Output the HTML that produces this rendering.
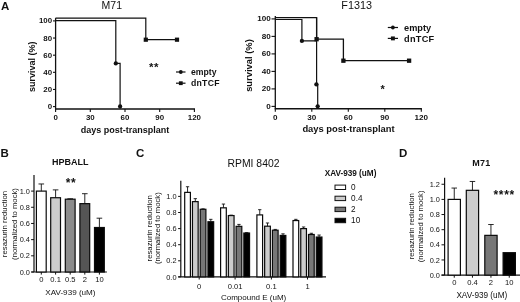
<!DOCTYPE html>
<html lang="en">
<head>
<meta charset="utf-8">
<title>Figure</title>
<style>
html,body{margin:0;padding:0;background:#fff;}
body{width:520px;height:302px;overflow:hidden;}
svg{display:block;will-change:transform;font-family:'Liberation Sans', Arial, Helvetica, sans-serif;}
</style>
</head>
<body>
<svg width="520" height="302" viewBox="0 0 520 302">
<rect x="0" y="0" width="520" height="302" fill="#ffffff"/>
<text x="1" y="9.6" font-size="11.5" font-weight="bold" text-anchor="start" fill="#111">A</text>
<text x="0.5" y="157.2" font-size="11.5" font-weight="bold" text-anchor="start" fill="#111">B</text>
<text x="136" y="157.2" font-size="11.5" font-weight="bold" text-anchor="start" fill="#111">C</text>
<text x="399" y="156.6" font-size="11.5" font-weight="bold" text-anchor="start" fill="#111">D</text>
<line x1="55.6" y1="18.1" x2="55.6" y2="108.95" stroke="#111" stroke-width="1.3"/>
<line x1="55.0" y1="108.95" x2="195.0" y2="108.95" stroke="#111" stroke-width="1.4"/>
<line x1="53.0" y1="106.6" x2="55.6" y2="106.6" stroke="#111" stroke-width="1.1"/>
<text x="52.1" y="109.09" font-size="7.9" font-weight="bold" text-anchor="end" fill="#111">0</text>
<line x1="53.0" y1="89.46" x2="55.6" y2="89.46" stroke="#111" stroke-width="1.1"/>
<text x="52.1" y="91.95" font-size="7.9" font-weight="bold" text-anchor="end" fill="#111">20</text>
<line x1="53.0" y1="72.32" x2="55.6" y2="72.32" stroke="#111" stroke-width="1.1"/>
<text x="52.1" y="74.81" font-size="7.9" font-weight="bold" text-anchor="end" fill="#111">40</text>
<line x1="53.0" y1="55.18" x2="55.6" y2="55.18" stroke="#111" stroke-width="1.1"/>
<text x="52.1" y="57.67" font-size="7.9" font-weight="bold" text-anchor="end" fill="#111">60</text>
<line x1="53.0" y1="38.04" x2="55.6" y2="38.04" stroke="#111" stroke-width="1.1"/>
<text x="52.1" y="40.53" font-size="7.9" font-weight="bold" text-anchor="end" fill="#111">80</text>
<line x1="53.0" y1="20.9" x2="55.6" y2="20.9" stroke="#111" stroke-width="1.1"/>
<text x="52.1" y="23.39" font-size="7.9" font-weight="bold" text-anchor="end" fill="#111">100</text>
<line x1="55.6" y1="108.95" x2="55.6" y2="111.95" stroke="#111" stroke-width="1.1"/>
<text x="55.6" y="120.25" font-size="7.9" font-weight="bold" text-anchor="middle" fill="#111">0</text>
<line x1="90.3" y1="108.95" x2="90.3" y2="111.95" stroke="#111" stroke-width="1.1"/>
<text x="90.3" y="120.25" font-size="7.9" font-weight="bold" text-anchor="middle" fill="#111">30</text>
<line x1="125.0" y1="108.95" x2="125.0" y2="111.95" stroke="#111" stroke-width="1.1"/>
<text x="125.0" y="120.25" font-size="7.9" font-weight="bold" text-anchor="middle" fill="#111">60</text>
<line x1="159.7" y1="108.95" x2="159.7" y2="111.95" stroke="#111" stroke-width="1.1"/>
<text x="159.7" y="120.25" font-size="7.9" font-weight="bold" text-anchor="middle" fill="#111">90</text>
<line x1="194.4" y1="108.95" x2="194.4" y2="111.95" stroke="#111" stroke-width="1.1"/>
<text x="194.4" y="120.25" font-size="7.9" font-weight="bold" text-anchor="middle" fill="#111">120</text>
<text x="111.8" y="9.2" font-size="10.5" text-anchor="middle" fill="#111">M71</text>
<text x="35.0" y="66.65" font-size="9.0" font-weight="bold" text-anchor="middle" fill="#111" transform="rotate(-90 35.0 66.65)">survival (%)</text>
<text x="125.1" y="132.7" font-size="9.0" font-weight="bold" text-anchor="middle" fill="#111">days post-transplant</text>
<polyline points="55.5,18.1 145.8,18.1 145.8,39.7 177,39.7" fill="none" stroke="#111" stroke-width="1.2"/>
<rect x="143.7" y="37.6" width="4.2" height="4.2" fill="#111"/>
<rect x="174.9" y="37.6" width="4.2" height="4.2" fill="#111"/>
<polyline points="55.5,20.6 115.8,20.6 115.8,63.4 120.1,63.4 120.1,106.6" fill="none" stroke="#111" stroke-width="1.2"/>
<circle cx="115.8" cy="63.4" r="2.15" fill="#111"/>
<circle cx="120.1" cy="106.5" r="2.15" fill="#111"/>
<text x="153.9" y="71.4" font-size="11.5" font-weight="bold" letter-spacing="0.4" text-anchor="middle" fill="#111">**</text>
<line x1="176" y1="72.0" x2="185.5" y2="72.0" stroke="#111" stroke-width="1.2"/>
<circle cx="180.8" cy="72.0" r="1.9" fill="#111"/>
<text x="191" y="75.1" font-size="8.7" font-weight="bold" text-anchor="start" fill="#111">empty</text>
<line x1="176" y1="83.2" x2="185.5" y2="83.2" stroke="#111" stroke-width="1.2"/>
<rect x="178.9" y="81.3" width="3.8" height="3.8" fill="#111"/>
<text x="191" y="86.4" font-size="8.7" font-weight="bold" letter-spacing="0.25" text-anchor="start" fill="#111">dnTCF</text>
<line x1="275.3" y1="16.1" x2="275.3" y2="108.8" stroke="#111" stroke-width="1.3"/>
<line x1="274.7" y1="108.8" x2="421.9" y2="108.8" stroke="#111" stroke-width="1.4"/>
<line x1="271.5" y1="106.4" x2="275.3" y2="106.4" stroke="#111" stroke-width="1.1"/>
<text x="270.7" y="108.97" font-size="8.1" font-weight="bold" text-anchor="end" fill="#111">0</text>
<line x1="271.5" y1="88.9" x2="275.3" y2="88.9" stroke="#111" stroke-width="1.1"/>
<text x="270.7" y="91.47" font-size="8.1" font-weight="bold" text-anchor="end" fill="#111">20</text>
<line x1="271.5" y1="71.4" x2="275.3" y2="71.4" stroke="#111" stroke-width="1.1"/>
<text x="270.7" y="73.97" font-size="8.1" font-weight="bold" text-anchor="end" fill="#111">40</text>
<line x1="271.5" y1="53.9" x2="275.3" y2="53.9" stroke="#111" stroke-width="1.1"/>
<text x="270.7" y="56.47" font-size="8.1" font-weight="bold" text-anchor="end" fill="#111">60</text>
<line x1="271.5" y1="36.4" x2="275.3" y2="36.4" stroke="#111" stroke-width="1.1"/>
<text x="270.7" y="38.97" font-size="8.1" font-weight="bold" text-anchor="end" fill="#111">80</text>
<line x1="271.5" y1="18.9" x2="275.3" y2="18.9" stroke="#111" stroke-width="1.1"/>
<text x="270.7" y="21.47" font-size="8.1" font-weight="bold" text-anchor="end" fill="#111">100</text>
<line x1="275.3" y1="108.8" x2="275.3" y2="111.8" stroke="#111" stroke-width="1.1"/>
<text x="275.3" y="120.1" font-size="8.1" font-weight="bold" text-anchor="middle" fill="#111">0</text>
<line x1="311.8" y1="108.8" x2="311.8" y2="111.8" stroke="#111" stroke-width="1.1"/>
<text x="311.8" y="120.1" font-size="8.1" font-weight="bold" text-anchor="middle" fill="#111">30</text>
<line x1="348.3" y1="108.8" x2="348.3" y2="111.8" stroke="#111" stroke-width="1.1"/>
<text x="348.3" y="120.1" font-size="8.1" font-weight="bold" text-anchor="middle" fill="#111">60</text>
<line x1="384.8" y1="108.8" x2="384.8" y2="111.8" stroke="#111" stroke-width="1.1"/>
<text x="384.8" y="120.1" font-size="8.1" font-weight="bold" text-anchor="middle" fill="#111">90</text>
<line x1="421.3" y1="108.8" x2="421.3" y2="111.8" stroke="#111" stroke-width="1.1"/>
<text x="421.3" y="120.1" font-size="8.1" font-weight="bold" text-anchor="middle" fill="#111">120</text>
<text x="356.6" y="9.2" font-size="10.8" text-anchor="middle" fill="#111">F1313</text>
<text x="252.5" y="65.55" font-size="9.4" font-weight="bold" text-anchor="middle" fill="#111" transform="rotate(-90 252.5 65.55)">survival (%)</text>
<text x="348.5" y="132.2" font-size="9.4" font-weight="bold" text-anchor="middle" fill="#111">days post-transplant</text>
<polyline points="275.3,19.5 301.9,19.5 301.9,40.9 316.6,40.9" fill="none" stroke="#111" stroke-width="1.2"/>
<polyline points="316.6,17.6 316.6,84.4 317.7,84.4 317.7,106.4" fill="none" stroke="#111" stroke-width="1.2"/>
<circle cx="301.9" cy="40.9" r="2.15" fill="#111"/>
<circle cx="316.4" cy="84.4" r="2.15" fill="#111"/>
<circle cx="317.7" cy="106.3" r="2.15" fill="#111"/>
<polyline points="275.3,17.6 316.6,17.6 316.6,39.2 343.4,39.2 343.4,60.7 409.1,60.7" fill="none" stroke="#111" stroke-width="1.3"/>
<rect x="314.45" y="37.05" width="4.3" height="4.3" fill="#111"/>
<rect x="341.25" y="58.55" width="4.3" height="4.3" fill="#111"/>
<rect x="406.95" y="58.55" width="4.3" height="4.3" fill="#111"/>
<text x="382.7" y="93.4" font-size="11" font-weight="bold" text-anchor="middle" fill="#111">*</text>
<line x1="387.8" y1="27.5" x2="398" y2="27.5" stroke="#111" stroke-width="1.2"/>
<circle cx="392.9" cy="27.5" r="1.9" fill="#111"/>
<text x="404.1" y="30.7" font-size="9.2" font-weight="bold" text-anchor="start" fill="#111">empty</text>
<line x1="387.8" y1="38.4" x2="398" y2="38.4" stroke="#111" stroke-width="1.2"/>
<rect x="390.95" y="36.45" width="3.9" height="3.9" fill="#111"/>
<text x="404.1" y="41.7" font-size="9.2" font-weight="bold" letter-spacing="0.25" text-anchor="start" fill="#111">dnTCF</text>
<line x1="34.0" y1="175.12" x2="34.0" y2="272.0" stroke="#111" stroke-width="1.2"/>
<line x1="31.4" y1="272.0" x2="106.9" y2="272.0" stroke="#111" stroke-width="1.1"/>
<line x1="31.1" y1="272.0" x2="34.0" y2="272.0" stroke="#111" stroke-width="1"/>
<text x="29.9" y="274.65" font-size="7.35" text-anchor="end" fill="#111">0.0</text>
<line x1="31.1" y1="255.82" x2="34.0" y2="255.82" stroke="#111" stroke-width="1"/>
<text x="29.9" y="258.47" font-size="7.35" text-anchor="end" fill="#111">0.2</text>
<line x1="31.1" y1="239.64" x2="34.0" y2="239.64" stroke="#111" stroke-width="1"/>
<text x="29.9" y="242.29" font-size="7.35" text-anchor="end" fill="#111">0.4</text>
<line x1="31.1" y1="223.46" x2="34.0" y2="223.46" stroke="#111" stroke-width="1"/>
<text x="29.9" y="226.11" font-size="7.35" text-anchor="end" fill="#111">0.6</text>
<line x1="31.1" y1="207.28" x2="34.0" y2="207.28" stroke="#111" stroke-width="1"/>
<text x="29.9" y="209.93" font-size="7.35" text-anchor="end" fill="#111">0.8</text>
<line x1="31.1" y1="191.1" x2="34.0" y2="191.1" stroke="#111" stroke-width="1"/>
<text x="29.9" y="193.75" font-size="7.35" text-anchor="end" fill="#111">1.0</text>
<text x="70.2" y="164.8" font-size="9" font-weight="bold" text-anchor="middle" fill="#111">HPBALL</text>
<text x="71.0" y="186.8" font-size="12" font-weight="bold" letter-spacing="0.5" text-anchor="middle" fill="#111">**</text>
<rect x="36.4" y="191.1" width="9.8" height="80.9" fill="#ffffff" stroke="#0a0a0a" stroke-width="1.2"/>
<line x1="41.3" y1="191.1" x2="41.3" y2="183.98" stroke="#111" stroke-width="0.9"/>
<line x1="38.5" y1="183.98" x2="44.1" y2="183.98" stroke="#111" stroke-width="0.9"/>
<line x1="41.3" y1="272.0" x2="41.3" y2="274.6" stroke="#111" stroke-width="1"/>
<text x="41.3" y="282.3" font-size="7.6" text-anchor="middle" fill="#111">0</text>
<rect x="50.7" y="197.73" width="9.8" height="74.27" fill="#cccccc" stroke="#0a0a0a" stroke-width="1.2"/>
<line x1="55.6" y1="197.73" x2="55.6" y2="189.89" stroke="#111" stroke-width="0.9"/>
<line x1="52.8" y1="189.89" x2="58.4" y2="189.89" stroke="#111" stroke-width="0.9"/>
<line x1="55.6" y1="272.0" x2="55.6" y2="274.6" stroke="#111" stroke-width="1"/>
<text x="55.6" y="282.3" font-size="7.6" text-anchor="middle" fill="#111">0.1</text>
<rect x="65.3" y="199.19" width="9.8" height="72.81" fill="#8c8c8c" stroke="#0a0a0a" stroke-width="1.2"/>
<line x1="70.2" y1="199.19" x2="70.2" y2="198.79" stroke="#111" stroke-width="0.9"/>
<line x1="67.4" y1="198.79" x2="73" y2="198.79" stroke="#111" stroke-width="0.9"/>
<line x1="70.2" y1="272.0" x2="70.2" y2="274.6" stroke="#111" stroke-width="1"/>
<text x="70.2" y="282.3" font-size="7.6" text-anchor="middle" fill="#111">0.5</text>
<rect x="79.9" y="203.64" width="9.8" height="68.36" fill="#555555" stroke="#0a0a0a" stroke-width="1.2"/>
<line x1="84.8" y1="203.64" x2="84.8" y2="193.69" stroke="#111" stroke-width="0.9"/>
<line x1="82" y1="193.69" x2="87.6" y2="193.69" stroke="#111" stroke-width="0.9"/>
<line x1="84.8" y1="272.0" x2="84.8" y2="274.6" stroke="#111" stroke-width="1"/>
<text x="84.8" y="282.3" font-size="7.6" text-anchor="middle" fill="#111">2</text>
<rect x="94.5" y="227.5" width="9.8" height="44.5" fill="#000000" stroke="#0a0a0a" stroke-width="1.2"/>
<line x1="99.4" y1="227.5" x2="99.4" y2="218.2" stroke="#111" stroke-width="0.9"/>
<line x1="96.6" y1="218.2" x2="102.2" y2="218.2" stroke="#111" stroke-width="0.9"/>
<line x1="99.4" y1="272.0" x2="99.4" y2="274.6" stroke="#111" stroke-width="1"/>
<text x="99.4" y="282.3" font-size="7.6" text-anchor="middle" fill="#111">10</text>
<text x="70.4" y="295.4" font-size="8.1" text-anchor="middle" fill="#111">XAV-939 (uM)</text>
<text x="7.1" y="224" font-size="7.8" text-anchor="middle" fill="#111" transform="rotate(-90 7.1 224)">resazurin reduction</text>
<text x="16.8" y="224" font-size="7.7" text-anchor="middle" fill="#111" transform="rotate(-90 16.8 224)">(normalized to mock)</text>
<line x1="180.8" y1="180.7" x2="180.8" y2="276.9" stroke="#111" stroke-width="1.2"/>
<line x1="178.3" y1="276.9" x2="326" y2="276.9" stroke="#111" stroke-width="1.1"/>
<line x1="178.1" y1="276.9" x2="180.8" y2="276.9" stroke="#111" stroke-width="1"/>
<text x="176.5" y="279.55" font-size="7.4" text-anchor="end" fill="#111">0.0</text>
<line x1="178.1" y1="260.8" x2="180.8" y2="260.8" stroke="#111" stroke-width="1"/>
<text x="176.5" y="263.45" font-size="7.4" text-anchor="end" fill="#111">0.2</text>
<line x1="178.1" y1="244.7" x2="180.8" y2="244.7" stroke="#111" stroke-width="1"/>
<text x="176.5" y="247.35" font-size="7.4" text-anchor="end" fill="#111">0.4</text>
<line x1="178.1" y1="228.6" x2="180.8" y2="228.6" stroke="#111" stroke-width="1"/>
<text x="176.5" y="231.25" font-size="7.4" text-anchor="end" fill="#111">0.6</text>
<line x1="178.1" y1="212.5" x2="180.8" y2="212.5" stroke="#111" stroke-width="1"/>
<text x="176.5" y="215.15" font-size="7.4" text-anchor="end" fill="#111">0.8</text>
<line x1="178.1" y1="196.4" x2="180.8" y2="196.4" stroke="#111" stroke-width="1"/>
<text x="176.5" y="199.05" font-size="7.4" text-anchor="end" fill="#111">1.0</text>
<text x="253.5" y="167.1" font-size="10.4" text-anchor="middle" fill="#111">RPMI 8402</text>
<rect x="184.7" y="192.38" width="5.7" height="84.52" fill="#ffffff" stroke="#0a0a0a" stroke-width="1.2"/>
<line x1="187.55" y1="192.38" x2="187.55" y2="186.74" stroke="#111" stroke-width="0.9"/>
<line x1="185.9" y1="186.74" x2="189.2" y2="186.74" stroke="#111" stroke-width="0.9"/>
<rect x="192.45" y="201.63" width="5.7" height="75.27" fill="#cccccc" stroke="#0a0a0a" stroke-width="1.2"/>
<line x1="195.3" y1="201.63" x2="195.3" y2="198.65" stroke="#111" stroke-width="0.9"/>
<line x1="193.65" y1="198.65" x2="196.95" y2="198.65" stroke="#111" stroke-width="0.9"/>
<rect x="200.2" y="209.28" width="5.7" height="67.62" fill="#777777" stroke="#0a0a0a" stroke-width="1.2"/>
<line x1="203.05" y1="209.28" x2="203.05" y2="208.88" stroke="#111" stroke-width="0.9"/>
<line x1="201.4" y1="208.88" x2="204.7" y2="208.88" stroke="#111" stroke-width="0.9"/>
<rect x="207.95" y="221.76" width="5.7" height="55.14" fill="#000000" stroke="#0a0a0a" stroke-width="1.2"/>
<line x1="210.8" y1="221.76" x2="210.8" y2="219.34" stroke="#111" stroke-width="0.9"/>
<line x1="209.15" y1="219.34" x2="212.45" y2="219.34" stroke="#111" stroke-width="0.9"/>
<line x1="199.2" y1="276.9" x2="199.2" y2="279.5" stroke="#111" stroke-width="1"/>
<text x="199.2" y="289.4" font-size="7.6" text-anchor="middle" fill="#111">0</text>
<rect x="220.6" y="207.83" width="5.7" height="69.07" fill="#ffffff" stroke="#0a0a0a" stroke-width="1.2"/>
<line x1="223.45" y1="207.83" x2="223.45" y2="204.05" stroke="#111" stroke-width="0.9"/>
<line x1="221.8" y1="204.05" x2="225.1" y2="204.05" stroke="#111" stroke-width="0.9"/>
<rect x="228.35" y="215.56" width="5.7" height="61.34" fill="#cccccc" stroke="#0a0a0a" stroke-width="1.2"/>
<line x1="231.2" y1="215.56" x2="231.2" y2="215.16" stroke="#111" stroke-width="0.9"/>
<line x1="229.55" y1="215.16" x2="232.85" y2="215.16" stroke="#111" stroke-width="0.9"/>
<rect x="236.1" y="226.35" width="5.7" height="50.55" fill="#777777" stroke="#0a0a0a" stroke-width="1.2"/>
<line x1="238.95" y1="226.35" x2="238.95" y2="224.41" stroke="#111" stroke-width="0.9"/>
<line x1="237.3" y1="224.41" x2="240.6" y2="224.41" stroke="#111" stroke-width="0.9"/>
<rect x="243.85" y="233.03" width="5.7" height="43.87" fill="#000000" stroke="#0a0a0a" stroke-width="1.2"/>
<line x1="246.7" y1="233.03" x2="246.7" y2="232.62" stroke="#111" stroke-width="0.9"/>
<line x1="245.05" y1="232.62" x2="248.35" y2="232.62" stroke="#111" stroke-width="0.9"/>
<line x1="235.1" y1="276.9" x2="235.1" y2="279.5" stroke="#111" stroke-width="1"/>
<text x="235.1" y="289.4" font-size="7.6" text-anchor="middle" fill="#111">0.01</text>
<rect x="256.9" y="214.91" width="5.7" height="61.98" fill="#ffffff" stroke="#0a0a0a" stroke-width="1.2"/>
<line x1="259.75" y1="214.91" x2="259.75" y2="209.68" stroke="#111" stroke-width="0.9"/>
<line x1="258.1" y1="209.68" x2="261.4" y2="209.68" stroke="#111" stroke-width="0.9"/>
<rect x="264.65" y="226.19" width="5.7" height="50.71" fill="#cccccc" stroke="#0a0a0a" stroke-width="1.2"/>
<line x1="267.5" y1="226.19" x2="267.5" y2="222.97" stroke="#111" stroke-width="0.9"/>
<line x1="265.85" y1="222.97" x2="269.15" y2="222.97" stroke="#111" stroke-width="0.9"/>
<rect x="272.4" y="230.21" width="5.7" height="46.69" fill="#777777" stroke="#0a0a0a" stroke-width="1.2"/>
<line x1="275.25" y1="230.21" x2="275.25" y2="229.41" stroke="#111" stroke-width="0.9"/>
<line x1="273.6" y1="229.41" x2="276.9" y2="229.41" stroke="#111" stroke-width="0.9"/>
<rect x="280.15" y="235.44" width="5.7" height="41.46" fill="#000000" stroke="#0a0a0a" stroke-width="1.2"/>
<line x1="283.0" y1="235.44" x2="283.0" y2="233.83" stroke="#111" stroke-width="0.9"/>
<line x1="281.35" y1="233.83" x2="284.65" y2="233.83" stroke="#111" stroke-width="0.9"/>
<line x1="271.4" y1="276.9" x2="271.4" y2="279.5" stroke="#111" stroke-width="1"/>
<text x="271.4" y="289.4" font-size="7.6" text-anchor="middle" fill="#111">0.1</text>
<rect x="293.0" y="220.55" width="5.7" height="56.35" fill="#ffffff" stroke="#0a0a0a" stroke-width="1.2"/>
<line x1="295.85" y1="220.55" x2="295.85" y2="219.34" stroke="#111" stroke-width="0.9"/>
<line x1="294.2" y1="219.34" x2="297.5" y2="219.34" stroke="#111" stroke-width="0.9"/>
<rect x="300.75" y="228.6" width="5.7" height="48.3" fill="#cccccc" stroke="#0a0a0a" stroke-width="1.2"/>
<line x1="303.6" y1="228.6" x2="303.6" y2="226.99" stroke="#111" stroke-width="0.9"/>
<line x1="301.95" y1="226.99" x2="305.25" y2="226.99" stroke="#111" stroke-width="0.9"/>
<rect x="308.5" y="234.48" width="5.7" height="42.42" fill="#777777" stroke="#0a0a0a" stroke-width="1.2"/>
<line x1="311.35" y1="234.48" x2="311.35" y2="233.27" stroke="#111" stroke-width="0.9"/>
<line x1="309.7" y1="233.27" x2="313.0" y2="233.27" stroke="#111" stroke-width="0.9"/>
<rect x="316.25" y="237.05" width="5.7" height="39.85" fill="#000000" stroke="#0a0a0a" stroke-width="1.2"/>
<line x1="319.1" y1="237.05" x2="319.1" y2="235.04" stroke="#111" stroke-width="0.9"/>
<line x1="317.45" y1="235.04" x2="320.75" y2="235.04" stroke="#111" stroke-width="0.9"/>
<line x1="307.5" y1="276.9" x2="307.5" y2="279.5" stroke="#111" stroke-width="1"/>
<text x="307.5" y="289.4" font-size="7.6" text-anchor="middle" fill="#111">1</text>
<text x="253.6" y="299.6" font-size="8" text-anchor="middle" fill="#111">Compound E (uM)</text>
<text x="151.6" y="228.3" font-size="7.8" text-anchor="middle" fill="#111" transform="rotate(-90 151.6 228.3)">resazurin reduction</text>
<text x="160.2" y="228.1" font-size="7.7" text-anchor="middle" fill="#111" transform="rotate(-90 160.2 228.1)">(normalized to mock)</text>
<text x="324.7" y="176.3" font-size="8.2" font-weight="bold" text-anchor="start" fill="#111">XAV-939 (uM)</text>
<rect x="335" y="185.10" width="10.6" height="4.4" fill="#ffffff" stroke="#111" stroke-width="1"/>
<text x="351.1" y="190.2" font-size="8.2" text-anchor="start" fill="#111">0</text>
<rect x="335" y="196.20" width="10.6" height="4.4" fill="#cccccc" stroke="#111" stroke-width="1"/>
<text x="351.1" y="201.3" font-size="8.2" text-anchor="start" fill="#111">0.4</text>
<rect x="335" y="207.20" width="10.6" height="4.4" fill="#777777" stroke="#111" stroke-width="1"/>
<text x="351.1" y="212.3" font-size="8.2" text-anchor="start" fill="#111">2</text>
<rect x="335" y="218.30" width="10.6" height="4.4" fill="#000000" stroke="#111" stroke-width="1"/>
<text x="351.1" y="223.4" font-size="8.2" text-anchor="start" fill="#111">10</text>
<line x1="444.6" y1="177.7" x2="444.6" y2="275.1" stroke="#111" stroke-width="1.2"/>
<line x1="441.5" y1="275.1" x2="520" y2="275.1" stroke="#111" stroke-width="1.1"/>
<line x1="441.5" y1="275.1" x2="444.6" y2="275.1" stroke="#111" stroke-width="1"/>
<text x="439.9" y="277.75" font-size="7.35" text-anchor="end" fill="#111">0.0</text>
<line x1="441.5" y1="259.96" x2="444.6" y2="259.96" stroke="#111" stroke-width="1"/>
<text x="439.9" y="262.61" font-size="7.35" text-anchor="end" fill="#111">0.2</text>
<line x1="441.5" y1="244.82" x2="444.6" y2="244.82" stroke="#111" stroke-width="1"/>
<text x="439.9" y="247.47" font-size="7.35" text-anchor="end" fill="#111">0.4</text>
<line x1="441.5" y1="229.68" x2="444.6" y2="229.68" stroke="#111" stroke-width="1"/>
<text x="439.9" y="232.33" font-size="7.35" text-anchor="end" fill="#111">0.6</text>
<line x1="441.5" y1="214.54" x2="444.6" y2="214.54" stroke="#111" stroke-width="1"/>
<text x="439.9" y="217.19" font-size="7.35" text-anchor="end" fill="#111">0.8</text>
<line x1="441.5" y1="199.4" x2="444.6" y2="199.4" stroke="#111" stroke-width="1"/>
<text x="439.9" y="202.05" font-size="7.35" text-anchor="end" fill="#111">1.0</text>
<line x1="441.5" y1="184.26" x2="444.6" y2="184.26" stroke="#111" stroke-width="1"/>
<text x="439.9" y="186.91" font-size="7.35" text-anchor="end" fill="#111">1.2</text>
<text x="481.4" y="166.2" font-size="9" font-weight="bold" letter-spacing="0.2" text-anchor="middle" fill="#111">M71</text>
<text x="504.2" y="198.5" font-size="12" font-weight="bold" letter-spacing="0.7" text-anchor="middle" fill="#111">****</text>
<rect x="448.1" y="199.4" width="12.3" height="75.7" fill="#ffffff" stroke="#0a0a0a" stroke-width="1.2"/>
<line x1="454.25" y1="199.4" x2="454.25" y2="188.05" stroke="#111" stroke-width="0.9"/>
<line x1="451.5" y1="188.05" x2="457.0" y2="188.05" stroke="#111" stroke-width="0.9"/>
<line x1="454.25" y1="275.1" x2="454.25" y2="277.7" stroke="#111" stroke-width="1"/>
<text x="454.25" y="285.3" font-size="7.6" text-anchor="middle" fill="#111">0</text>
<rect x="466.3" y="190.32" width="12.3" height="84.78" fill="#cccccc" stroke="#0a0a0a" stroke-width="1.2"/>
<line x1="472.45" y1="190.32" x2="472.45" y2="181.46" stroke="#111" stroke-width="0.9"/>
<line x1="469.7" y1="181.46" x2="475.2" y2="181.46" stroke="#111" stroke-width="0.9"/>
<line x1="472.45" y1="275.1" x2="472.45" y2="277.7" stroke="#111" stroke-width="1"/>
<text x="472.45" y="285.3" font-size="7.6" text-anchor="middle" fill="#111">0.4</text>
<rect x="484.8" y="235.36" width="12.3" height="39.74" fill="#777777" stroke="#0a0a0a" stroke-width="1.2"/>
<line x1="490.95" y1="235.36" x2="490.95" y2="224.53" stroke="#111" stroke-width="0.9"/>
<line x1="488.2" y1="224.53" x2="493.7" y2="224.53" stroke="#111" stroke-width="0.9"/>
<line x1="490.95" y1="275.1" x2="490.95" y2="277.7" stroke="#111" stroke-width="1"/>
<text x="490.95" y="285.3" font-size="7.6" text-anchor="middle" fill="#111">2</text>
<rect x="503.1" y="252.69" width="12.3" height="22.41" fill="#000000" stroke="#0a0a0a" stroke-width="1.2"/>
<line x1="509.25" y1="275.1" x2="509.25" y2="277.7" stroke="#111" stroke-width="1"/>
<text x="509.25" y="285.3" font-size="7.6" text-anchor="middle" fill="#111">10</text>
<text x="481.8" y="297.9" font-size="8.2" text-anchor="middle" fill="#111">XAV-939 (uM)</text>
<text x="414.5" y="226.2" font-size="7.8" text-anchor="middle" fill="#111" transform="rotate(-90 414.5 226.2)">resazurin reduction</text>
<text x="423.3" y="226.4" font-size="7.7" text-anchor="middle" fill="#111" transform="rotate(-90 423.3 226.4)">(normalized to mock)</text>
</svg>
</body>
</html>
